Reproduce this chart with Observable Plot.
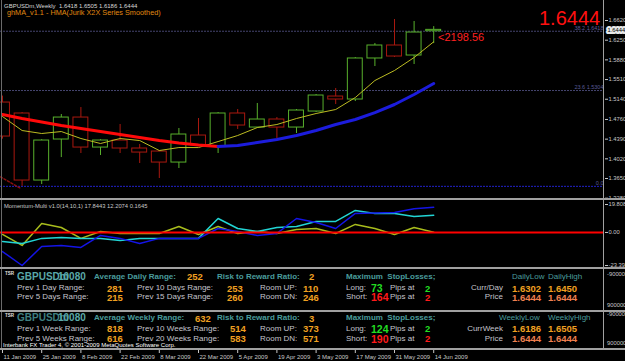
<!DOCTYPE html>
<html><head><meta charset="utf-8">
<script src="https://cdn.jsdelivr.net/npm/d3@7"></script>
<script src="https://cdn.jsdelivr.net/npm/@observablehq/plot@0.6"></script>
<style>
html,body{margin:0;padding:0;background:#000;}
#wrap{position:relative;width:625px;height:361px;background:#000;overflow:hidden;font-family:"Liberation Sans",Arial,sans-serif;}
.abs{position:absolute;white-space:pre;line-height:1;}
.ln{position:absolute;background:#9a9a9a;}
.pane{position:absolute;left:0;}
</style></head><body><div id="wrap"></div>
<script>
// ---------- data ----------
const weeks = ["11 Jan 2009","18 Jan 2009","25 Jan 2009","1 Feb 2009","8 Feb 2009","15 Feb 2009","22 Feb 2009","1 Mar 2009","8 Mar 2009","15 Mar 2009","22 Mar 2009","29 Mar 2009","5 Apr 2009","12 Apr 2009","19 Apr 2009","26 Apr 2009","3 May 2009","10 May 2009","17 May 2009","24 May 2009","31 May 2009","7 Jun 2009","14 Jun 2009"];
const open  = [1.5078,1.4872,1.3612,1.4383,1.4796,1.4232,1.4364,1.4214,1.4157,1.3950,1.4458,1.4251,1.4872,1.4608,1.4759,1.4608,1.4909,1.5191,1.5135,1.5906,1.6150,1.5962,1.6418];
const high  = [1.5200,1.4890,1.4380,1.4853,1.4984,1.4380,1.4665,1.4289,1.4170,1.4590,1.4778,1.4890,1.4947,1.5060,1.4796,1.4947,1.5228,1.5342,1.5924,1.6188,1.6639,1.6601,1.6505];
const low   = [1.4390,1.3503,1.3537,1.4044,1.4120,1.4082,1.4120,1.3932,1.3650,1.3838,1.4250,1.4120,1.4571,1.4590,1.4402,1.4496,1.4890,1.5041,1.5097,1.5755,1.5924,1.5793,1.6186];
const close = [1.4439,1.3612,1.4364,1.4796,1.4232,1.4364,1.4214,1.4138,1.3950,1.4477,1.4270,1.4872,1.4646,1.4759,1.4608,1.4928,1.5210,1.5135,1.5906,1.6150,1.5943,1.6394,1.6444];
const hmaValues = [1.4853,1.4778,1.4712,1.4646,1.4590,1.4533,1.4477,1.4420,1.4364,1.4317,1.4279,1.4251,1.4270,1.4326,1.4383,1.4458,1.4552,1.4665,1.4759,1.4890,1.5041,1.5229,1.5436];
const hmaTurn = 11;
const smoothValues = [1.4815,1.4552,1.4496,1.4533,1.4402,1.4308,1.4402,1.4364,1.4176,1.4232,1.4232,1.4345,1.4458,1.4608,1.4665,1.4778,1.4872,1.4947,1.5172,1.5492,1.5680,1.5924,1.6220];
const tailValues = [1.3680,1.3470];
const priceTicks = [1.6620,1.6250,1.5880,1.5510,1.5140,1.4760,1.4390,1.4020,1.3650,1.3280];
const fibNames = ["38.2","23.6","0.0"];
const fibPrices = [1.6418,1.5304,1.3503];
const symbolHeader = "GBPUSDm,Weekly  1.6418 1.6505 1.6186 1.6444";
const indicatorName = "ghMA_v1.1 - HMA(Jurik X2X Series Smoothed)";
const equityNote = "<2198.56";

const momBlue  = [-13.5,-23.4,-9.9,-9.2,-10.6,-2.1,-4.2,-7.8,-4.2,-4.2,-4.2,2.8,0.7,-2.1,-0.7,9.9,7.1,2.8,13.5,13.8,14.2,16.8,17.8443];
const momCyan  = [-6.4,-7.8,-4.2,-3.5,-4.2,-4.2,-5.7,-4.2,-4.2,-4.2,-4.2,9.9,2.8,0.7,3.5,4.2,7.8,7.8,15.6,13.5,13.5,11.3,12.2074];
const momOlive = [-1.4,-9.2,6.4,3.5,-4.2,0.7,-0.7,-0.7,-0.7,4.2,-1.4,4.2,-0.7,0.7,-0.7,2.1,2.8,-0.7,5.7,2.8,-1.4,3.5,0.1645];
const momTicks = [19.8083,0,-23.3978];
const momHeader = "Momentum-Multi v1.0(14,10,1) 17.8443 12.2074 0.1645";

// TSR panels
const tsrSymbol = ["GBPUSDm","10080"];
const dailyRangeLabels = ["Prev 1 Day Range:","Prev 5 Days Range:","Prev 10 Days Range:","Prev 15 Days Range:"];
const dailyRangeValues = [281,215,253,260];
const weeklyRangeLabels = ["Prev 1 Week Range:","Prev 5 Weeks Range:","Prev 10 Weeks Range:","Prev 20 Weeks Range:"];
const weeklyRangeValues = [818,616,514,583];
const avgRange = [252,632];
const riskReward = [2,3];
const roomDaily = [110,246];
const roomWeekly = [373,571];
const stopDaily = [73,164];
const stopWeekly = [124,190];
const pipsAt = [2,2];
const dailyLowHigh = [1.6302,1.6450];
const weeklyLowHigh = [1.6186,1.6505];
const priceNow = [1.6444,1.6444];
const copyright = "Interbank FX Trader 4, \u00a9 2001-2009 MetaQuotes Software Corp.";

// ---------- helpers ----------
const wrap = document.getElementById("wrap");
const FONT = "Liberation Sans, Arial, sans-serif";
function put(x, yc, s, size, color, bold, right){
  const d = document.createElement("div");
  d.className = "abs"; d.textContent = s;
  d.style.left = x + "px"; d.style.top = (yc - size*0.5) + "px";
  d.style.fontSize = size + "px"; d.style.color = color;
  if (bold) d.style.fontWeight = "bold";
  if (right) d.style.transform = "translateX(-100%)";
  wrap.appendChild(d); return d;
}
function line(x,y,w,h,c){const d=document.createElement("div");d.className="ln";Object.assign(d.style,{left:x+"px",top:y+"px",width:w+"px",height:h+"px"});if(c)d.style.background=c;wrap.appendChild(d);}
function pane(el, top){el.classList.add("pane"); el.style.top = top + "px"; wrap.appendChild(el);}

const bars = weeks.map((w,i)=>({i, open:open[i], high:high[i], low:low[i], close:close[i]}));
const ups = bars.filter(d=>d.close>=d.open), downs = bars.filter(d=>d.close<d.open);
const GREEN = "#58b02c", RED = "#a8180f";
const X = {domain:[-0.102, 30.714], range:[0,604], axis:null};
const fib = fibNames.map((n,k)=>({price:fibPrices[k], label:n + (k<2 ? " " + fibPrices[k].toFixed(4) : ""), color: k<2 ? "#45456e" : "#2222cc"}));
const hmaDown = hmaValues.map((v,i)=>({i,v})).filter(d=>d.i<=hmaTurn);
const hmaUp = hmaValues.map((v,i)=>({i,v})).filter(d=>d.i>=hmaTurn);
const smooth = smoothValues.map((v,i)=>({i,v}));
const tail = tailValues.map((v,i)=>({i:i-0.1,v}));
const lastClose = close[close.length-1];
const fmt4 = d3.format(".4f");

// ---------- price pane ----------
const pricePlot = Plot.plot({
  width:625, height:198, marginLeft:0, marginRight:21, marginTop:0, marginBottom:0,
  style:{background:"#000", color:"#c8c8c8", fontSize:"5.8px", fontFamily:FONT},
  x: X,
  y: {domain:[1.3280,1.6620], range:[197.7,20], axis:"right", ticks:priceTicks, tickFormat:fmt4, tickSize:3, tickPadding:1, label:null},
  marks:[
    Plot.ruleY(fib.slice(0,2), {y:"price", stroke:"#45456e", strokeDasharray:"2,1"}),
    Plot.ruleY(fib.slice(2), {y:"price", stroke:"#2222cc", strokeDasharray:"2,1"}),
    Plot.text(fib, {y:"price", text:"label", frameAnchor:"right", textAnchor:"end", dx:-1, dy:-3.5, fill:"#5a5a96", fontSize:5.5}),
    Plot.ruleX(ups, {x:"i", y1:"low", y2:"high", stroke:GREEN}),
    Plot.ruleX(downs, {x:"i", y1:"low", y2:"high", stroke:RED}),
    Plot.rect(ups, {x1:d=>d.i-0.38, x2:d=>d.i+0.38, y1:"open", y2:"close", fill:"#000", stroke:GREEN}),
    Plot.rect(downs, {x1:d=>d.i-0.38, x2:d=>d.i+0.38, y1:"open", y2:"close", fill:"#000", stroke:RED}),
    Plot.line(tail, {x:"i", y:"v", stroke:"#8a1010", strokeDasharray:"2,2"}),
    Plot.line(smooth, {x:"i", y:"v", stroke:"#bcbc22", strokeWidth:1}),
    Plot.line(hmaDown, {x:"i", y:"v", stroke:"#ff0a0a", strokeWidth:3}),
    Plot.line(hmaUp, {x:"i", y:"v", stroke:"#1c1cdc", strokeWidth:3}),
    Plot.text([lastClose], {y:d=>d, text:d=>fmt4(d), frameAnchor:"right", textAnchor:"start", dx:3, fill:"#000", stroke:"#e8e8e8", strokeWidth:4, fontSize:5.8})
  ]
});
pane(pricePlot, 0);

// ---------- momentum pane ----------
const momRows = [momOlive, momCyan, momBlue].flatMap((arr,k)=>arr.map((v,i)=>({i,v,s:k})));
const momPlot = Plot.plot({
  width:625, height:67, marginLeft:0, marginRight:21, marginTop:0, marginBottom:0,
  style:{background:"#000", color:"#c8c8c8", fontSize:"5.8px", fontFamily:FONT},
  x: X,
  y: {domain:[-23.3978,19.8083], range:[65,4], axis:"right", ticks:momTicks, tickFormat:d=>d===0?"0.00":d.toFixed(4), tickSize:3, tickPadding:1, label:null},
  marks:[
    Plot.line(momRows.filter(d=>d.s===0), {x:"i", y:"v", stroke:"#a8bc1c", strokeWidth:1.5}),
    Plot.line(momRows.filter(d=>d.s===1), {x:"i", y:"v", stroke:"#22d4d4", strokeWidth:1.5}),
    Plot.line(momRows.filter(d=>d.s===2), {x:"i", y:"v", stroke:"#1414e6", strokeWidth:1.5}),
    Plot.ruleY([0], {stroke:"#ff0000", strokeWidth:2})
  ]
});
pane(momPlot, 200);

// ---------- date axis ----------
const tickRows = weeks.map((w,i)=>({i,label:w})).filter(d=>d.i%2===0);
const axisPlot = Plot.plot({
  width:625, height:11, marginLeft:0, marginRight:21, marginTop:0, marginBottom:0,
  style:{background:"#000", color:"#c8c8c8", fontSize:"6px", fontFamily:FONT},
  x: X,
  marks:[
    Plot.ruleX(tickRows, {x:"i", insetBottom:8, stroke:"#c8c8c8"}),
    Plot.text(tickRows, {x:"i", text:"label", textAnchor:"start", frameAnchor:"middle", dx:1, dy:1, fill:"#c8c8c8", fontSize:6})
  ]
});
pane(axisPlot, 350);

// ---------- frame lines ----------
line(603,0,1,349,"#a0a0a0");
line(1,0,1,349,"#6a6a6a");
line(0,198,625,2,"#a0a0a0");
line(0,267,625,2,"#a0a0a0");
line(0,310,625,2,"#a0a0a0");
line(0,348,625,2,"#a0a0a0");

// ---------- overlay texts ----------
put(4,6,symbolHeader,6,"#d8d8d8");
put(7,13,indicatorName,7.3,"#e08a10");
put(539,17.5,fmt4(lastClose),20,"#ff1010");
put(438,37,equityNote,11,"#ff2020");
put(4,206.5,momHeader,5.8,"#c8c8c8");

// right labels of TSR panes
const RL = "#c8c8c8";
put(607,275,"-9000000",5.8,RL); put(607,306,"9000000",5.8,RL);
put(607,315,"-9000000",5.8,RL); put(607,344,"9000000",5.8,RL);

const TEAL="#4a9c9c", TEAL2="#5aa8a8", GRAY="#c4c4cc", ORANGE="#f0a020", SALMON="#f08050", GRN="#22dd22", RD="#ff1a1a";
function tsr(y0, isWeekly){
  const labels = isWeekly ? weeklyRangeLabels : dailyRangeLabels;
  const vals = isWeekly ? weeklyRangeValues : dailyRangeValues;
  const room = isWeekly ? roomWeekly : roomDaily;
  const stops = isWeekly ? stopWeekly : stopDaily;
  const lh = isWeekly ? weeklyLowHigh : dailyLowHigh;
  const k = isWeekly ? 1 : 0;
  const r1 = y0, r2 = y0 + (isWeekly?10.7:11.6), r3 = y0 + (isWeekly?20.7:20.6);
  put(5,r1-2,"TSR",4.5,"#e0e0e0",true);
  put(17,r1,tsrSymbol[0],10,isWeekly?"#3f7f80":TEAL2,true);
  put(58,r1,tsrSymbol[1],10,TEAL2,true);
  put(94,r1,isWeekly?"Average Weekly Range:":"Average Daily Range:",8,TEAL,true);
  put(isWeekly?195:187,r1,String(avgRange[k]),9.5,ORANGE,true);
  put(217,r1,"Risk to Reward Ratio:",8,TEAL,true);
  put(309,r1,String(riskReward[k]),9.5,ORANGE,true);
  put(346,r1,"Maximum  StopLosses;",8,TEAL,true);
  put(isWeekly?499:512,r1,isWeekly?"WeeklyLow":"DailyLow",8,TEAL);
  put(548,r1,isWeekly?"WeeklyHigh":"DailyHigh",8,TEAL);
  // rows
  put(17,r2,labels[0],8,GRAY); put(107,r2,String(vals[0]),9.5,ORANGE,true);
  put(17,r3,labels[1],8,GRAY); put(107,r3,String(vals[1]),9.5,ORANGE,true);
  put(137,r2,labels[2],8,GRAY); put(isWeekly?230:227,r2,String(vals[2]),9.5,ORANGE,true);
  put(137,r3,labels[3],8,GRAY); put(isWeekly?230:227,r3,String(vals[3]),9.5,ORANGE,true);
  put(260,r2,"Room UP:",8,GRAY); put(303,r2,String(room[0]),9.5,ORANGE,true);
  put(260,r3,"Room DN:",8,GRAY); put(303,r3,String(room[1]),9.5,ORANGE,true);
  put(346,r2,"Long:",8,GRAY); put(371,r2,String(stops[0]),10.5,GRN,true);
  put(346,r3,"Short:",8,GRAY); put(371,r3,String(stops[1]),10.5,RD,true);
  put(390,r2,"Pips at",8,GRAY); put(425,r2,String(pipsAt[0]),9.5,GRN,true);
  put(390,r3,"Pips at",8,GRAY); put(425,r3,String(pipsAt[1]),9.5,RD,true);
  put(503,r2,isWeekly?"CurrWeek":"Curr/Day",8,GRAY,false,true);
  put(503,r3,"Price",8,GRAY,false,true);
  put(512,r2,fmt4(lh[0]),9.5,ORANGE,true); put(548,r2,fmt4(lh[1]),9.5,ORANGE,true);
  put(512,r3,fmt4(priceNow[0]),9.5,SALMON,true); put(548,r3,fmt4(priceNow[1]),9.5,SALMON,true);
}
tsr(276.7,false);
tsr(318.3,true);
put(3,344.5,copyright,6,"#ffffff");
</script></body></html>
